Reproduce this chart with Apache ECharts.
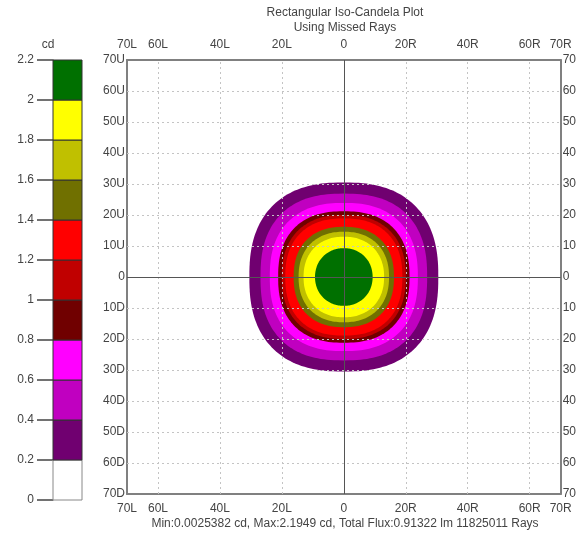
<!DOCTYPE html>
<html>
<head>
<meta charset="utf-8">
<script src="https://cdn.jsdelivr.net/npm/echarts@6/dist/echarts.min.js"></script>
<style>
  html, body { margin: 0; padding: 0; background: #fff; }
  #chart { width: 579px; height: 535px; }
</style>
</head>
<body>
<div id="chart"></div>
<script>
// candela levels (lower bound of each band) and their colours
let levels = [0.2, 0.4, 0.6, 0.8, 1.0, 1.2, 1.4, 1.6, 1.8, 2.0]
let levelColors = ['#700070', '#c000c0', '#ff00ff', '#700000', '#c00000', '#ff0000', '#707000', '#c0c000', '#ffff00', '#007000']
// half width of each iso-candela contour (deg)
let levelRadius = [30.5, 26.9, 23.9, 21.2, 20.0, 18.9, 16.2, 14.6, 13.0, 9.3]
// how square each contour is (superellipse exponent)
let levelRoundness = [2.45, 2.45, 2.4, 2.4, 2.35, 2.35, 2.3, 2.25, 2.2, 2.08]

let xTickValues = [-70, -60, -40, -20, 0, 20, 40, 60, 70]
let xTickLabels = ['70L', '60L', '40L', '20L', '0', '20R', '40R', '60R', '70R']
let yTickValues = [-70, -60, -50, -40, -30, -20, -10, 0, 10, 20, 30, 40, 50, 60, 70]
let yTickLabels = ['70D', '60D', '50D', '40D', '30D', '20D', '10D', '0', '10U', '20U', '30U', '40U', '50U', '60U', '70U']
let xGrid = [-60, -40, -20, 20, 40, 60]
let yGrid = [-60, -50, -40, -30, -20, -10, 10, 20, 30, 40, 50, 60]

let barLows = [0, 0.2, 0.4, 0.6, 0.8, 1.0, 1.2, 1.4, 1.6, 1.8, 2.0]
let barHighs = [0.2, 0.4, 0.6, 0.8, 1.0, 1.2, 1.4, 1.6, 1.8, 2.0, 2.2]
let barColors = ['#ffffff'].concat(levelColors)

let footer = 'Min:0.0025382 cd, Max:2.1949 cd, Total Flux:0.91322 lm 11825011 Rays'

var font = 'Liberation Sans, Arial, sans-serif'
var txt = '#444'
var frame = {show: true, onZero: false, lineStyle: {color: '#808080', width: 2}}

function contour(params, api) {
    var r = api.value(0)
    var n = api.value(1)
    var pts = []
    for (var k = 0; k < 180; k++) {
        var t = k / 180 * 2 * Math.PI
        var c = Math.cos(t), s = Math.sin(t)
        var x = r * Math.sign(c) * Math.pow(Math.abs(c), 2 / n)
        var y = r * Math.sign(s) * Math.pow(Math.abs(s), 2 / n)
        pts.push(api.coord([x, y]))
    }
    return {type: 'polygon', shape: {points: pts}, style: {fill: levelColors[params.dataIndex]}}
}

function colorBox(params, api) {
    var top = api.coord([0, api.value(1)])
    var bot = api.coord([1, api.value(0)])
    var i = params.dataIndex
    return {
        type: 'rect',
        shape: {x: top[0], y: top[1], width: bot[0] - top[0], height: bot[1] - top[1]},
        style: {fill: barColors[i], stroke: i === 0 ? '#888' : '#333', lineWidth: 1}
    }
}

var dotted = {type: [2, 3], color: '#c4c4c4', width: 1}
var solid = {type: 'solid', color: '#555', width: 1}
var gridLines = []
xGrid.forEach(v => gridLines.push({xAxis: v, lineStyle: dotted}))
yGrid.forEach(v => gridLines.push({yAxis: v, lineStyle: dotted}))
gridLines.push({xAxis: 0, lineStyle: solid})
gridLines.push({yAxis: 0, lineStyle: solid})

var chart = echarts.init(document.getElementById('chart'))
chart.setOption({
    animation: false,
    textStyle: {fontFamily: font},
    grid: [
        {left: 127, top: 60, width: 436, height: 434},
        {left: 53, top: 60, width: 29, height: 440}
    ],
    xAxis: [
        {
            gridIndex: 0, type: 'value', min: -70, max: 70, interval: 10, position: 'bottom',
            axisLine: frame, axisTick: {show: false}, splitLine: {show: false},
            axisLabel: {
                margin: 9, color: txt, fontSize: 12, fontFamily: font,
                formatter: v => { var i = xTickValues.indexOf(v); return i >= 0 ? xTickLabels[i] : '' }
            }
        },
        {
            gridIndex: 0, type: 'value', min: -70, max: 70, interval: 10, position: 'top',
            axisLine: frame, axisTick: {show: false}, splitLine: {show: false},
            axisLabel: {
                margin: 9, color: txt, fontSize: 12, fontFamily: font,
                formatter: v => { var i = xTickValues.indexOf(v); return i >= 0 ? xTickLabels[i] : '' }
            }
        },
        {gridIndex: 1, type: 'value', min: 0, max: 1, show: false}
    ],
    yAxis: [
        {
            gridIndex: 0, type: 'value', min: -70, max: 70, interval: 10, position: 'left',
            axisLine: frame, axisTick: {show: false}, splitLine: {show: false},
            axisLabel: {
                margin: 2, color: txt, fontSize: 12, fontFamily: font,
                formatter: v => { var i = yTickValues.indexOf(v); return i >= 0 ? yTickLabels[i] : '' }
            }
        },
        {
            gridIndex: 0, type: 'value', min: -70, max: 70, interval: 10, position: 'right',
            axisLine: frame, axisTick: {show: false}, splitLine: {show: false},
            axisLabel: {margin: 2, color: txt, fontSize: 12, fontFamily: font, formatter: v => String(Math.abs(v))}
        },
        {
            gridIndex: 1, type: 'value', min: 0, max: 2.2, interval: 0.2, position: 'left',
            axisLine: {show: true, onZero: false, lineStyle: {color: '#777', width: 1}},
            axisTick: {show: true, length: 16, lineStyle: {color: '#444', width: 1.5}},
            splitLine: {show: false},
            axisLabel: {margin: 19, color: txt, fontSize: 12, fontFamily: font}
        }
    ],
    series: [
        {
            type: 'custom',
            xAxisIndex: 0, yAxisIndex: 0,
            renderItem: contour,
            data: levels.map((lv, i) => [levelRadius[i], levelRoundness[i]]),
            encode: {x: -1, y: -1},
            clip: true,
            markLine: {silent: true, symbol: 'none', label: {show: false}, data: gridLines}
        },
        {
            type: 'custom',
            xAxisIndex: 2, yAxisIndex: 2,
            renderItem: colorBox,
            data: barLows.map((lo, i) => [lo, barHighs[i]]),
            encode: {x: -1, y: -1}
        }
    ],
    graphic: [
        {type: 'text', x: 345, y: 5, style: {text: 'Rectangular Iso-Candela Plot\nUsing Missed Rays', align: 'center', fill: txt, font: '12px ' + font, lineHeight: 15}},
        {type: 'text', x: 48, y: 39, style: {text: 'cd', align: 'center', fill: txt, font: '12px ' + font}},
        {type: 'text', x: 345, y: 518, style: {text: footer, align: 'center', fill: txt, font: '12px ' + font}}
    ]
})
</script>
</body>
</html>
